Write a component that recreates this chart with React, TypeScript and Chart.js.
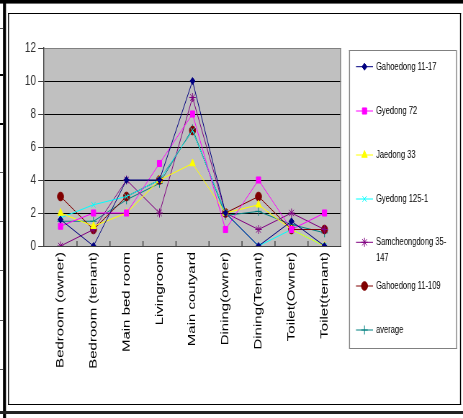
import React, { useEffect, useRef } from 'react';
import { Chart, registerables } from 'chart.js';
import { drawPoint } from 'chart.js/helpers';

Chart.register(...registerables);

// ---- data ----
const categories = [
  'Bedroom (owner)',
  'Bedroom (tenant)',
  'Main bed room',
  'Livingroom',
  'Main coutyard',
  'Dining(owner)',
  'Dining(Tenant)',
  'Toilet(Owner)',
  'Toilet(tenant)',
];
const seriesNames = [
  'Gahoedong 11-17',
  'Gyedong 72',
  'Jaedong 33',
  'Gyedong 125-1',
  'Samcheongdong 35-147',
  'Gahoedong 11-109',
  'average',
];
const gahoedong1117 = [1.6, 0, 4, 4, 10, 2, 0, 1.5, 0];
const gyedong72 = [1.2, 2, 2, 5, 8, 1, 4, 1, 2];
const jaedong33 = [2, 1.2, 2, 4, 5, 2, 2.5, 1, 0];
const gyedong1251 = [1.7, 2.5, 3, 4, 7, 2, 0, 1, 0];
const samcheongdong35147 = [0, 1, 4, 2, 9, 2, 1, 2, 1];
const gahoedong11109 = [3, 1, 3, 4, 7, 2, 3, 1, 1];
const average = [1.5, 1.5, 2.8, 3.8, 7.1, 1.85, 2.1, 1.3, 0.8];
const yMin = 0;
const yMax = 12;
const yStep = 2;

const seriesValues = [
  gahoedong1117,
  gyedong72,
  jaedong33,
  gyedong1251,
  samcheongdong35147,
  gahoedong11109,
  average,
];
const seriesColors = ['#000080', '#ff00ff', '#ffff00', '#00ffff', '#800080', '#800000', '#008080'];
const seriesMarkers = ['rectRot', 'rect', 'triangle', 'crossRot', 'star', 'circle', 'cross'];
const seriesRadius = [3.5, 4.3, 4.5, 4, 4.5, 4.3, 4.5];

// ---- geometry (page px) ----
const PAGE_W = 463;
const H = 418;
const W = 643;
const S = PAGE_W / W; // horizontal squish
const X = (px: number) => px / S;

const PLOT_L = 44;
const PLOT_R = 341;
const PLOT_T = 48;
const PLOT_B = 246;

const legendRows = [66.7, 111, 155, 199, 242.3, 286, 330];

const framePlugin = {
  id: 'frame',
  beforeDraw(chart: any) {
    const ctx = chart.ctx;
    ctx.save();
    ctx.fillStyle = '#ffffff';
    ctx.fillRect(0, 0, W, H);
    // top band
    ctx.fillStyle = '#000';
    ctx.fillRect(0, 0, W, 3);
    ctx.fillStyle = '#6a6a6a';
    ctx.fillRect(0, 3, W, 1);
    // left band
    ctx.fillStyle = '#000';
    ctx.fillRect(X(3), 0, X(3), H);
    // left sheet ticks
    const ticks = [28, 74, 123, 172, 221, 270, 320, 369];
    ticks.forEach((y, i) => {
      ctx.fillStyle = i === 1 || i === 2 ? '#000' : '#555';
      ctx.fillRect(0, y, X(3), i === 1 || i === 2 ? 2 : 1);
    });
    // inner box
    ctx.fillStyle = '#000';
    ctx.fillRect(X(8), 13, X(461) - X(8), 1);
    ctx.fillRect(X(8), 404, X(461) - X(8), 1);
    ctx.fillRect(X(8), 13, X(1), 392);
    ctx.fillRect(X(460), 13, X(1), 392);
    // bottom band
    ctx.fillStyle = '#222';
    ctx.fillRect(0, 411, W, 3);
    // plot background
    const { left, top, right, bottom } = chart.chartArea;
    ctx.fillStyle = '#c0c0c0';
    ctx.fillRect(left, top, right - left, bottom - top);
    ctx.restore();
  },
  beforeDatasetsDraw(chart: any) {
    const ctx = chart.ctx;
    const { left, top, right, bottom } = chart.chartArea;
    const xs = chart.scales.x;
    ctx.save();
    // right border of plot
    ctx.fillStyle = '#808080';
    ctx.fillRect(right - X(1), top, X(1), bottom - top);
    // inner x ticks at category boundaries
    ctx.fillStyle = '#404040';
    for (let i = 1; i < categories.length; i++) {
      const px = xs.getPixelForValue(i - 0.5);
      ctx.fillRect(px - X(0.5), bottom - 5, X(1), 5);
    }
    ctx.restore();
  },
  afterDraw(chart: any) {
    const ctx = chart.ctx;
    ctx.save();
    // legend box
    const bx0 = X(349);
    const bx1 = X(456);
    const by0 = 50;
    const by1 = 348;
    ctx.fillStyle = '#808080';
    ctx.fillRect(bx0, by0, bx1 - bx0, 1);
    ctx.fillRect(bx0, by1, bx1 - bx0 + X(1), 1);
    ctx.fillRect(bx0, by0, X(1), by1 - by0);
    ctx.fillRect(bx1, by0, X(1), by1 - by0 + 1);

    ctx.font = '10.5px "Liberation Sans", Arial, sans-serif';
    ctx.textBaseline = 'middle';
    ctx.textAlign = 'left';
    const maxW = X(452) - X(376);
    chart.data.datasets.forEach((ds: any, i: number) => {
      const y = legendRows[i];
      ctx.strokeStyle = ds.borderColor;
      ctx.lineWidth = 1;
      ctx.beginPath();
      ctx.moveTo(X(356), y);
      ctx.lineTo(X(373), y);
      ctx.stroke();
      ctx.fillStyle = ds.backgroundColor;
      ctx.strokeStyle = ds.borderColor;
      drawPoint(
        ctx,
        { pointStyle: ds.pointStyle, radius: ds.pointRadius, borderWidth: 1, rotation: 0 } as any,
        X(364.5),
        y
      );
      // wrap text
      const label: string = ds.label;
      let lines = [label];
      if (ctx.measureText(label).width > maxW) {
        let cut = -1;
        for (let k = label.length - 1; k > 0; k--) {
          const ch = label[k];
          if (ch === '-' || ch === ' ') {
            const part = label.slice(0, ch === '-' ? k + 1 : k);
            if (ctx.measureText(part).width <= maxW) {
              cut = k;
              break;
            }
          }
        }
        if (cut > 0) {
          const ch = label[cut];
          lines = [label.slice(0, ch === '-' ? cut + 1 : cut), label.slice(cut + 1)];
        }
      }
      ctx.fillStyle = '#000';
      lines.forEach((ln, k) => ctx.fillText(ln, X(376), y + k * 15.4));
    });
    ctx.restore();
  },
};

export default function App() {
  const ref = useRef<HTMLCanvasElement | null>(null);

  useEffect(() => {
    if (!ref.current) return;
    const chart = new Chart(ref.current, {
      type: 'line',
      data: {
        labels: categories,
        datasets: seriesValues.map((vals, i) => ({
          label: seriesNames[i],
          data: vals,
          borderColor: seriesColors[i],
          backgroundColor: seriesColors[i],
          pointBackgroundColor: seriesColors[i],
          pointBorderColor: seriesColors[i],
          pointStyle: seriesMarkers[i] as any,
          pointRadius: seriesRadius[i],
          pointBorderWidth: 1,
          borderWidth: 1,
          tension: 0,
          fill: false,
        })),
      },
      options: {
        animation: false,
        responsive: false,
        devicePixelRatio: 1,
        layout: { padding: { left: 0, top: PLOT_T, right: W - X(PLOT_R), bottom: 0 } },
        plugins: { legend: { display: false }, tooltip: { enabled: false } },
        scales: {
          x: {
            type: 'category',
            offset: true,
            grid: { display: true, drawOnChartArea: false, drawTicks: false, offset: true },
            border: { display: true, color: '#404040', width: 1 },
            ticks: {
              autoSkip: false,
              minRotation: 90,
              maxRotation: 90,
              padding: 6,
              color: '#000',
              font: { family: '"Liberation Sans", Arial, sans-serif', size: 15 },
            },
            afterFit: (scale: any) => {
              scale.height = H - PLOT_B;
            },
          },
          y: {
            min: yMin,
            max: yMax,
            ticks: {
              stepSize: yStep,
              padding: 3,
              color: '#333',
              font: { family: '"Liberation Sans", Arial, sans-serif', size: 14 },
            },
            grid: {
              color: (c: any) =>
                c.tick && c.tick.value === yMin
                  ? 'rgba(0,0,0,0)'
                  : c.tick && c.tick.value === yMax
                  ? '#808080'
                  : '#000',
              tickColor: '#404040',
              tickLength: 8,
              lineWidth: 1,
            },
            border: { display: true, color: '#404040', width: X(1) },
            afterFit: (scale: any) => {
              scale.width = X(PLOT_L);
            },
          },
        },
      },
      plugins: [framePlugin],
    });
    return () => chart.destroy();
  }, []);

  return (
    <div
      style={{
        position: 'absolute',
        left: 0,
        top: 0,
        width: W,
        height: H,
        transform: `scaleX(${S})`,
        transformOrigin: '0 0',
      }}
    >
      <canvas ref={ref} width={W} height={H} style={{ display: 'block', width: W, height: H }} />
    </div>
  );
}
